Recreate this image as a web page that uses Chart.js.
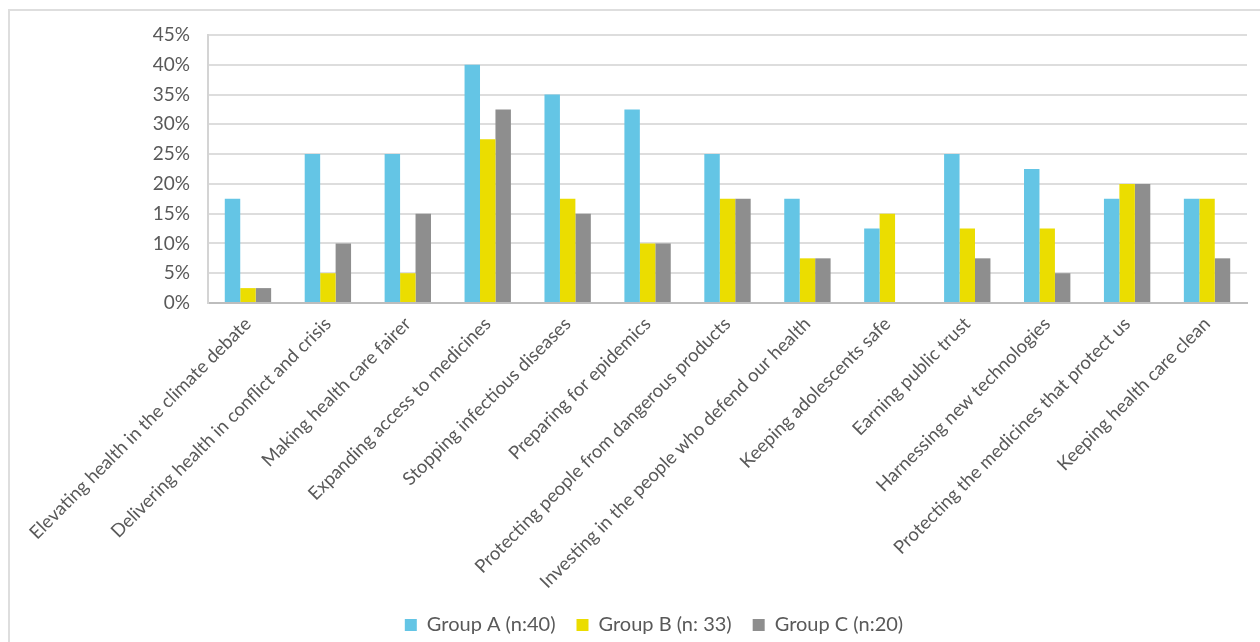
<!DOCTYPE html>
<html>
<head>
<meta charset="utf-8">
<script src="https://cdn.jsdelivr.net/npm/chart.js@4"></script>
<style>
    html, body { margin: 0; padding: 0; background: #fff; }
    #wrap { position: relative; width: 1260px; height: 642px; overflow: hidden; }
    #frame { position: absolute; left: 8px; top: 9px; width: 1300px; height: 700px;
             border-left: 2px solid #dedede; border-top: 2px solid #dedede; }
    canvas { position: absolute; left: 0; top: 0; }
</style>
</head>
<body>
<div id="wrap">
    <div id="frame"></div>
    <canvas id="barChart" width="1260" height="642"></canvas>
</div>
<script>
const categories = [
    'Elevating health in the climate debate',
    'Delivering health in conflict and crisis',
    'Making health care fairer',
    'Expanding access to medicines',
    'Stopping infectious diseases',
    'Preparing for epidemics',
    'Protecting people from dangerous products',
    'Investing in the people who defend our health',
    'Keeping adolescents safe',
    'Earning public trust',
    'Harnessing new technologies',
    'Protecting the medicines that protect us',
    'Keeping health care clean'
];
const groupA = [17.5, 25, 25, 40, 35, 32.5, 25, 17.5, 12.5, 25, 22.5, 17.5, 17.5];
const groupB = [2.5, 5, 5, 27.5, 17.5, 10, 17.5, 7.5, 15, 12.5, 12.5, 20, 17.5];
const groupC = [2.5, 10, 15, 32.5, 15, 10, 17.5, 7.5, 0, 7.5, 5, 20, 7.5];
const seriesLabels = ['Group A (n:40)', 'Group B (n: 33)', 'Group C (n:20)'];
const yTicks = [0, 5, 10, 15, 20, 25, 30, 35, 40, 45];

const textColor = '#595959';
const fontFamily = 'Lato, "Open Sans", sans-serif';

document.addEventListener('DOMContentLoaded', () => {
    renderBarChart();
});

// fixed legend height so the rotated labels get the room they need
const legendHeight = {
    id: 'legendHeight',
    beforeUpdate(chart) {
        const legend = chart.legend;
        if (legend && !legend._fixedFit) {
            const fit = legend.fit.bind(legend);
            legend.fit = function () { fit(); this.height = 48; };
            legend._fixedFit = true;
        }
    }
};

function renderBarChart() {
    const ctx = document.getElementById('barChart').getContext('2d');
    new Chart(ctx, {
        type: 'bar',
        data: {
            labels: categories,
            datasets: [
                { label: seriesLabels[0], data: groupA, backgroundColor: '#64c5e5' },
                { label: seriesLabels[1], data: groupB, backgroundColor: '#ebdd00' },
                { label: seriesLabels[2], data: groupC, backgroundColor: '#8e8e8e' }
            ]
        },
        options: {
            responsive: false,
            animation: false,
            datasets: {
                bar: { categoryPercentage: 0.58, barPercentage: 1 }
            },
            layout: { padding: { top: 35, right: 13, left: 61, bottom: 0 } },
            scales: {
                x: {
                    grid: { display: false },
                    border: { color: '#bdbdbd', width: 2 },
                    ticks: {
                        color: textColor,
                        font: { family: fontFamily, size: 18.5 },
                        minRotation: 45,
                        maxRotation: 45,
                        autoSkip: false,
                        padding: 2
                    },
                    afterFit: (scale) => { scale.height = 291; }
                },
                y: {
                    min: 0,
                    max: 45,
                    afterBuildTicks: (scale) => { scale.ticks = yTicks.map(v => ({ value: v })); },
                    grid: { color: '#dddddd', lineWidth: 2, drawTicks: false },
                    border: { color: '#d4d4d4', width: 2 },
                    ticks: {
                        color: textColor,
                        font: { family: fontFamily, size: 19 },
                        padding: 18,
                        callback: (v) => v + '%'
                    },
                    afterFit: (scale) => { scale.width = 147; }
                }
            },
            plugins: {
                legend: {
                    position: 'bottom',
                    labels: {
                        color: textColor,
                        font: { family: fontFamily, size: 20 },
                        boxWidth: 12,
                        boxHeight: 12,
                        padding: 21
                    }
                },
                tooltip: { enabled: false }
            }
        },
        plugins: [legendHeight]
    });
}
</script>
</body>
</html>
